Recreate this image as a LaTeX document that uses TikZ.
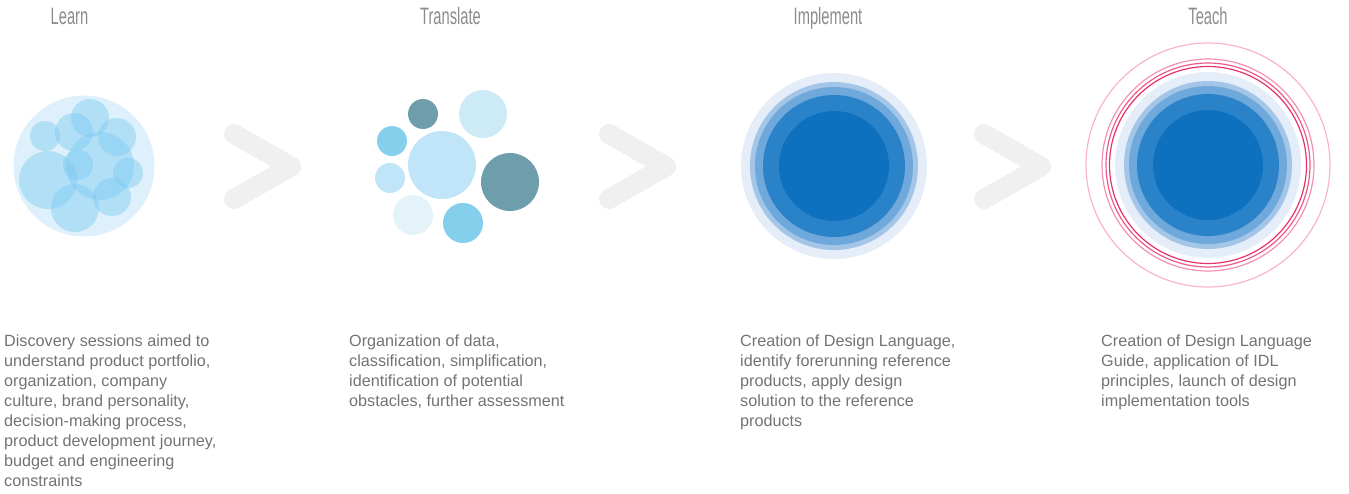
\documentclass[tikz,border=0pt]{standalone}
\usepackage{fontspec}
\setmainfont{Liberation Sans}
\newfontfamily\headfont{Liberation Sans}[FakeStretch=0.62]
\usepackage{tikz}
\usetikzlibrary{positioning}

\definecolor{headgray}{HTML}{8C8C8C}
\definecolor{descgray}{HTML}{737373}
\definecolor{chevgray}{HTML}{F0F0F0}
\definecolor{learnback}{HTML}{DDF0FB}
\definecolor{learnblue}{HTML}{7CCBF2}
\definecolor{tealdark}{HTML}{6E9EAC}
\definecolor{cyanmid}{HTML}{84D0EC}
\definecolor{skylight}{HTML}{C0E4F8}
\definecolor{skypale}{HTML}{CDEBF6}
\definecolor{skyfaint}{HTML}{E4F3FA}
\definecolor{ringA}{HTML}{E5EEF8}
\definecolor{ringB}{HTML}{A3C6E8}
\definecolor{ringC}{HTML}{6FA8DA}
\definecolor{ringD}{HTML}{2A82C9}
\definecolor{ringE}{HTML}{0E71C0}
\definecolor{pinkA}{HTML}{F9B5C8}
\definecolor{pinkB}{HTML}{F490B0}
\definecolor{pinkC}{HTML}{EC5A88}
\definecolor{pinkD}{HTML}{E8306A}

\tikzset{
  heading/.style={font=\headfont\fontsize{23.7}{24}\selectfont, text=headgray,
    inner sep=0pt, anchor=base},
  desc/.style={font=\fontsize{16.2}{20}\selectfont, text=descgray, align=left,
    anchor=north west, inner sep=0pt},
  chevron/.style={draw=chevgray, line width=20pt, line cap=round, line join=round},
  bubble/.style={fill=learnblue, fill opacity=0.45},
  pinkring/.style={line width=1.2pt},
}

\begin{document}
\begin{tikzpicture}[x=1pt,y=-1pt]
\useasboundingbox (0,0) rectangle (1349,493);

% titres
\node[heading] (learn) at (69.5,24) {Learn};
\node[heading] (translate) at (450.5,24) {Translate};
\node[heading] (implement) at (828,24) {Implement};
\node[heading] (teach) at (1208,24) {Teach};

% setas
\draw[chevron] (234,134) -- (291,166.5) -- (234,199);
\draw[chevron] (609,134) -- (666,166.5) -- (609,199);
\draw[chevron] (984,134) -- (1041,166.5) -- (984,199);

% learn: bolhas
\fill[learnback] (84,166) circle (70.5pt);
\fill[bubble] (90,118) circle (19pt);
\fill[bubble] (45,136) circle (15pt);
\fill[bubble] (74,132) circle (19pt);
\fill[bubble] (117,137) circle (19pt);
\fill[bubble] (100,166) circle (34pt);
\fill[bubble] (78,165) circle (15pt);
\fill[bubble] (128,173) circle (15pt);
\fill[bubble] (48,180) circle (29pt);
\fill[bubble] (75,208) circle (24pt);
\fill[bubble] (112,197) circle (19pt);

% translate: bolhas soltas
\fill[tealdark] (423,114) circle (15pt);
\fill[skypale] (483,114) circle (24pt);
\fill[cyanmid] (392,141) circle (15pt);
\fill[skylight] (442,165) circle (34pt);
\fill[tealdark] (510,182) circle (29pt);
\fill[skylight] (390,178) circle (15pt);
\fill[skyfaint] (413,215) circle (20pt);
\fill[cyanmid] (463,223) circle (20pt);

% implement: discos
\fill[ringA] (834,166) circle (93pt);
\fill[ringB] (834,166) circle (84pt);
\fill[ringC] (834,166) circle (79pt);
\fill[ringD] (834,166) circle (71pt);
\fill[ringE] (834,166) circle (55pt);

% teach: discos e aneis
\draw[pinkring, pinkA] (1208,165) circle (122pt);
\draw[pinkring, pinkB] (1208,165) circle (106pt);
\draw[pinkring, pinkC] (1208,165) circle (102pt);
\draw[pinkring, pinkD] (1208,165) circle (98.5pt);
\fill[ringA] (1208,165) circle (93pt);
\fill[ringB] (1208,165) circle (84pt);
\fill[ringC] (1208,165) circle (79pt);
\fill[ringD] (1208,165) circle (71pt);
\fill[ringE] (1208,165) circle (55pt);

% textos
\node[desc] (learntext) at (4,335) {Discovery sessions aimed to\\
  understand product portfolio,\\ organization, company\\
  culture, brand personality,\\ decision-making process,\\
  product development journey,\\ budget and engineering\\ constraints};
\node[desc] (translatetext) at (349,335) {Organization of data,\\
  classification, simplification,\\ identification of potential\\
  obstacles, further assessment};
\node[desc] (implementtext) at (740,335) {Creation of Design Language,\\
  identify forerunning reference\\ products, apply design\\
  solution to the reference\\ products};
\node[desc] (teachtext) at (1101,335) {Creation of Design Language\\
  Guide, application of IDL\\ principles, launch of design\\
  implementation tools};
\end{tikzpicture}
\end{document}
